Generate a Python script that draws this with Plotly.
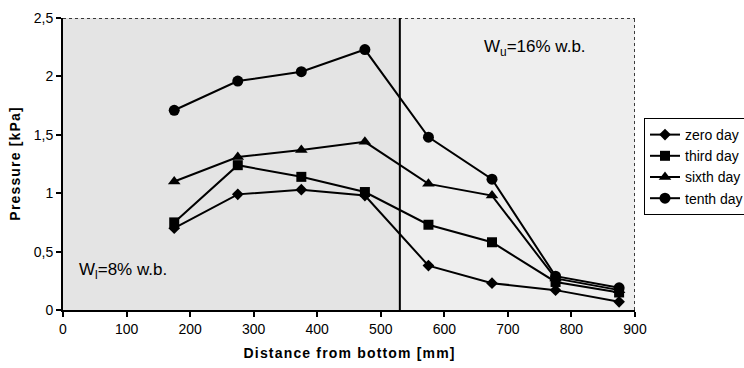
import plotly.graph_objects as go

distance = [175, 275, 375, 475, 575, 675, 775, 875]
zero_day = [0.70, 0.99, 1.03, 0.98, 0.38, 0.23, 0.17, 0.07]
third_day = [0.75, 1.24, 1.14, 1.01, 0.73, 0.58, 0.24, 0.15]
sixth_day = [1.10, 1.31, 1.37, 1.44, 1.08, 0.98, 0.27, 0.17]
tenth_day = [1.71, 1.96, 2.04, 2.23, 1.48, 1.12, 0.29, 0.19]
boundary_x = 530

series = [
    ("zero day", zero_day, "diamond", 9),
    ("third day", third_day, "square", 10),
    ("sixth day", sixth_day, "triangle-up", 11),
    ("tenth day", tenth_day, "circle", 11),
]

FONT = "Liberation Sans, Arial, sans-serif"


def spaced(s, sep="\u200a"):
    return sep.join(s)


fig = go.Figure()
for name, vals, sym, sz in series:
    fig.add_trace(go.Scatter(
        x=distance, y=vals, name=name, mode="lines+markers",
        line=dict(color="black", width=2),
        marker=dict(symbol=sym, size=sz, color="black"),
    ))

# background shading (left darker, right lighter)
fig.add_shape(type="rect", xref="x", yref="y", x0=0, x1=boundary_x, y0=0, y1=2.5,
              fillcolor="#e4e4e4", line_width=0, layer="below")
fig.add_shape(type="line", xref="x", yref="y", x0=boundary_x, x1=boundary_x, y0=0, y1=2.5,
              line=dict(color="black", width=2))
# dotted frame top/right
fig.add_shape(type="line", xref="x", yref="y", x0=0, x1=900, y0=2.5, y1=2.5,
              line=dict(color="black", width=1.5, dash="dot"))
fig.add_shape(type="line", xref="x", yref="y", x0=900, x1=900, y0=0, y1=2.5,
              line=dict(color="black", width=1.5, dash="dot"))

fig.add_annotation(x=22, y=0.33, xref="x", yref="y", xanchor="left", yanchor="middle",
                   text="W<sub>l</sub>=8% w.b.", showarrow=False,
                   font=dict(family=FONT, size=17, color="black"))
fig.add_annotation(x=743, y=2.24, xref="x", yref="y", xanchor="center", yanchor="middle",
                   text="W<sub>u</sub>=16% w.b.", showarrow=False,
                   font=dict(family=FONT, size=17, color="black"))

fig.update_layout(
    width=744, height=368,
    margin=dict(l=63, r=109, t=18, b=58, autoexpand=False),
    paper_bgcolor="white",
    plot_bgcolor="#eeeeee",
    font=dict(family=FONT, size=14, color="black"),
    legend=dict(
        xref="container", yref="container",
        x=644 / 744, y=1 - 118 / 368, xanchor="left", yanchor="top",
        bgcolor="white", bordercolor="black", borderwidth=1,
        font=dict(family=FONT, size=14, color="black"),
        tracegroupgap=0, itemwidth=30,
    ),
    xaxis=dict(
        range=[0, 900], tickvals=list(range(0, 901, 100)),
        showgrid=False, zeroline=False,
        showline=True, linecolor="black", linewidth=2,
        ticks="outside", ticklen=5, tickwidth=1.5, tickcolor="black",
        tickfont=dict(size=14),
        title=dict(text="<b>" + spaced("Distance from bottom [mm]") + "</b>",
                   font=dict(size=14), standoff=12),
    ),
    yaxis=dict(
        range=[0, 2.5], tickvals=[0, 0.5, 1, 1.5, 2, 2.5],
        ticktext=["0", "0,5", "1", "1,5", "2", "2,5"],
        showgrid=False, zeroline=False,
        showline=True, linecolor="black", linewidth=2,
        ticks="outside", ticklen=5, tickwidth=1.5, tickcolor="black",
        tickfont=dict(size=14),
        title=dict(text="<b>" + spaced("Pressure [kPa]") + "</b>", font=dict(size=14), standoff=10),
    ),
)

fig.write_html("out.html")
